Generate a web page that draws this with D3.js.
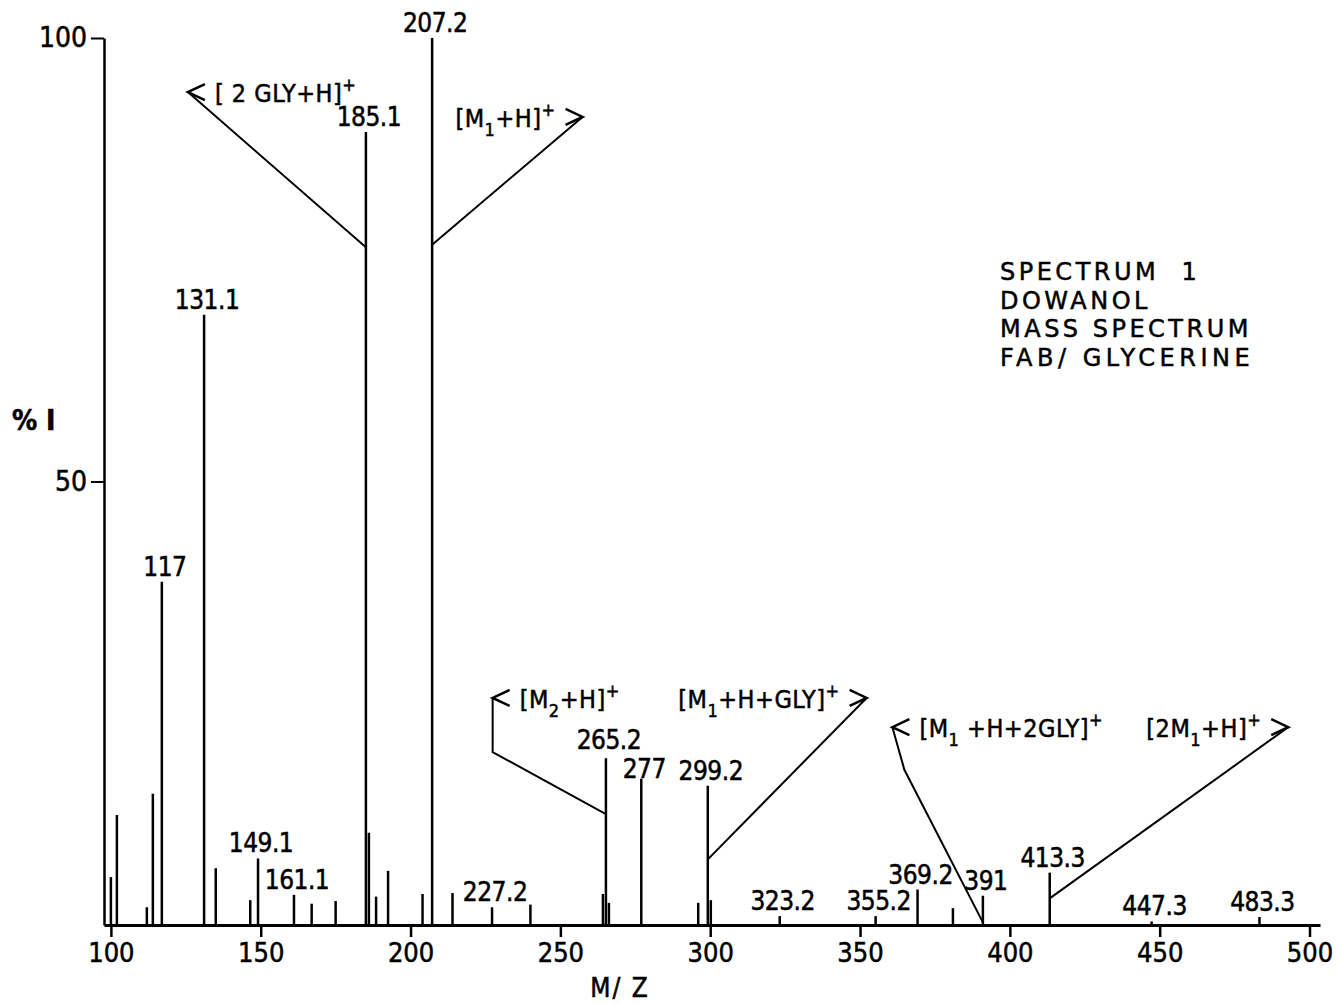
<!DOCTYPE html>
<html>
<head>
<meta charset="utf-8">
<script src="https://cdn.jsdelivr.net/npm/d3@7"></script>
<style>
body { margin: 0; background: #fff; }
text { font-family: "DejaVu Sans Condensed", "DejaVu Sans", sans-serif; fill: #000; stroke: #000; stroke-width: 0.5px; }
</style>
</head>
<body>
<svg id="chart" width="1337" height="1006"></svg>
<script>
// peaks (m/z, % intensity)
var peakMz  = [100, 102, 112, 114, 117, 131.1, 135, 146.5, 149.1, 161.1, 167, 175,
               185.1, 186.1, 188.5, 192.5, 204, 207.2, 214, 227.2, 240,
               264.2, 265.2, 266.2, 277, 296, 299.2, 300.2, 323.2, 355.2,
               369.2, 381, 391, 413.3, 447.3, 483.3];
var peakInt = [5.4, 12.4, 2.0, 14.8, 38.7, 68.8, 6.4, 2.8, 7.5, 3.4, 2.4, 2.7,
               89.4, 10.4, 3.2, 6.1, 3.5, 100, 3.6, 2.0, 2.3,
               3.5, 18.8, 2.5, 16.5, 2.5, 15.7, 2.8, 1.0, 1.0,
               4.0, 1.9, 3.3, 5.9, 0.4, 0.9];
var labelMz   = [117, 131.1, 149.1, 161.1, 185.1, 207.2, 227.2, 265.2, 277, 299.2,
                 323.2, 355.2, 369.2, 391, 413.3, 447.3, 483.3];
var labelText = ["117", "131.1", "149.1", "161.1", "185.1", "207.2", "227.2", "265.2", "277", "299.2",
                 "323.2", "355.2", "369.2", "391", "413.3", "447.3", "483.3"];

// ion assignments: "_x" subscript, "^x" superscript
var annText   = ["[ 2 GLY+H]^+", "[M_1+H]^+", "[M_2+H]^+", "[M_1+H+GLY]^+", "[M_1 +H+2GLY]^+", "[2M_1+H]^+"];
var annSide   = ["left", "right", "left", "right", "left", "right"];
var annTipMz  = [125.7, 257.4, 227.4, 352.2, 360.8, 492.9];
var annTipInt = [93.9, 91.1, 25.6, 25.6, 22.3, 22.3];
var annElbow  = [null, null, [227.4, 19.5], null, [364.8, 17.5], null];
var annPeak   = [185.1, 207.2, 265.2, 299.2, 391, 413.3];
var annJoin   = [76.4, 76.7, 12.5, 7.4, 0.3, 3.0];

var xTicks = [100, 150, 200, 250, 300, 350, 400, 450, 500];
var yTicks = [50, 100];
var infoLines = ["SPECTRUM  1", "DOWANOL", "MASS SPECTRUM", "FAB/ GLYCERINE"];

var svg = d3.select("#chart");

var x = d3.scaleLinear().domain([97.7, 503.5]).range([104, 1320]);
var y = d3.scaleLinear().domain([0, 100]).range([925, 38]);

var xAxis = d3.axisBottom(x).tickValues(xTicks).tickSize(12).tickSizeOuter(0).tickPadding(6);
var yAxis = d3.axisLeft(y).tickValues(yTicks).tickSize(13).tickSizeOuter(0).tickPadding(4);

var gx = svg.append("g")
    .attr("transform", "translate(0," + y(0) + ")")
    .call(xAxis);
gx.select(".domain").attr("stroke-width", 3);
gx.selectAll(".tick line").attr("stroke-width", 2.5);
gx.selectAll(".tick text").style("font-size", "27px").attr("dy", "0.7em");

var gy = svg.append("g")
    .attr("transform", "translate(" + x(97.7) + ",0)")
    .call(yAxis);
gy.select(".domain").attr("stroke-width", 2.5);
gy.selectAll(".tick line").attr("stroke-width", 2);
gy.selectAll(".tick text").style("font-size", "28px");

// peak sticks
svg.selectAll(".peak")
    .data(peakMz)
    .enter().append("line")
    .attr("class", "peak")
    .attr("x1", function(d) { return x(d); })
    .attr("x2", function(d) { return x(d); })
    .attr("y1", y(0))
    .attr("y2", function(d, i) { return y(peakInt[i]); })
    .attr("stroke", "#000")
    .attr("stroke-width", 2.5);

// peak labels
var plabels = svg.selectAll(".plabel")
    .data(labelMz)
    .enter().append("text")
    .attr("class", "plabel")
    .attr("x", function(d) { return x(d) + 3; })
    .attr("y", function(d) { return y(peakInt[peakMz.indexOf(d)]) - 6; })
    .attr("text-anchor", "middle")
    .style("font-size", "26px")
    .style("letter-spacing", "-0.5px")
    .text(function(d, i) { return labelText[i]; });

// crowded neighbours at nearly the same height: drop the right one onto its stick, lift the left one
var prev = null;
plabels.each(function(d) {
    var b = this.getBBox();
    if (prev && b.x < prev.b.x + prev.b.width && Math.abs(b.y - prev.b.y) < 24) {
        d3.select(this).attr("y", y(peakInt[peakMz.indexOf(d)]) - 1);
        d3.select(prev.node).attr("y", +d3.select(prev.node).attr("y") - 3);
        b = this.getBBox();
    }
    prev = {node: this, b: b};
});

function rich(t, str) {
    var re = /([_^])(.)|([^_^]+)/g, m, shift = 0;
    while ((m = re.exec(str))) {
        if (m[3]) {
            t.append("tspan").attr("dy", -shift).text(m[3]);
            shift = 0;
        } else {
            var d = m[1] === "_" ? 9 : -11;
            t.append("tspan").attr("dy", d - shift).style("font-size", "18px").text(m[2]);
            shift = d;
        }
    }
}

// annotation brackets
annText.forEach(function(txt, i) {
    var tx = x(annTipMz[i]), ty = y(annTipInt[i]);
    var pts = [[tx, ty]];
    if (annElbow[i]) pts.push([x(annElbow[i][0]), y(annElbow[i][1])]);
    pts.push([x(annPeak[i]), y(annJoin[i])]);
    svg.append("path")
        .attr("d", d3.line()(pts))
        .attr("fill", "none")
        .attr("stroke", "#000")
        .attr("stroke-width", 2);

    var s = annSide[i] === "left" ? 1 : -1;
    svg.append("path")
        .attr("d", d3.line()([[tx + s * 17, ty - 8], [tx, ty], [tx + s * 17, ty + 8]]))
        .attr("fill", "none")
        .attr("stroke", "#000")
        .attr("stroke-width", 2.5);

    var t = svg.append("text")
        .attr("x", tx + s * 27)
        .attr("y", ty + 10)
        .attr("text-anchor", s > 0 ? "start" : "end")
        .style("font-size", "25px")
        .style("letter-spacing", "0.5px");
    rich(t, txt);
});

// sample description
svg.selectAll(".info")
    .data(infoLines)
    .enter().append("text")
    .attr("class", "info")
    .attr("x", 1000)
    .attr("y", function(d, i) { return 280 + i * 28.5; })
    .style("font-family", "'DejaVu Sans', sans-serif")
    .style("font-size", "24px")
    .style("letter-spacing", function(d, i) { return i === 3 ? "4.5px" : "3.5px"; })
    .style("white-space", "pre")
    .text(function(d) { return d; });

// axis titles
svg.append("text")
    .attr("x", 12)
    .attr("y", 430)
    .style("font-size", "28px")
    .style("font-weight", "bold")
    .text("% I");

svg.append("text")
    .attr("x", 620)
    .attr("y", 997)
    .attr("text-anchor", "middle")
    .style("font-size", "26px")
    .style("letter-spacing", "2px")
    .style("white-space", "pre")
    .text("M/ Z");
</script>
</body>
</html>
